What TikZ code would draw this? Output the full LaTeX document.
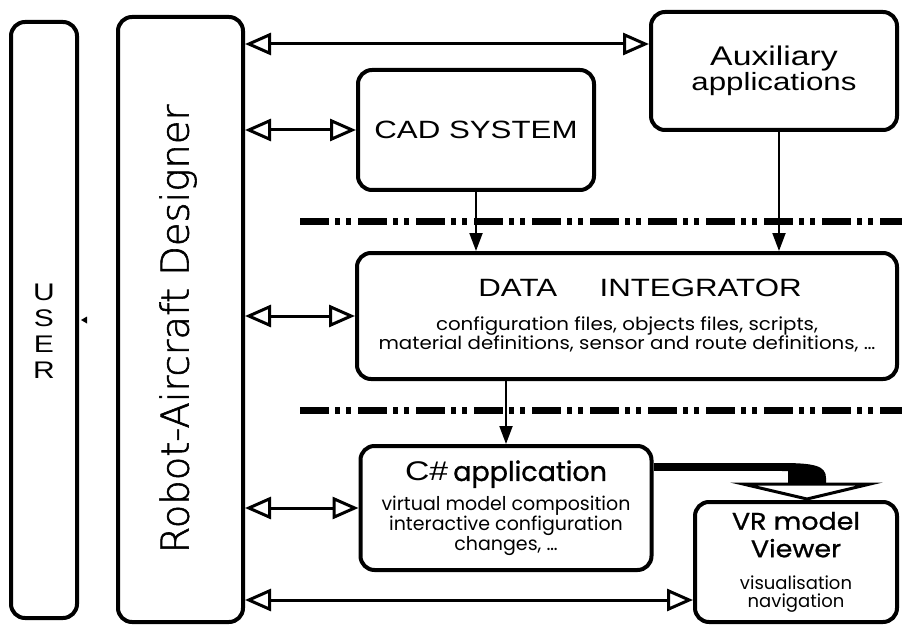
\documentclass[tikz,border=0pt]{standalone}
\usepackage{fontspec}
\setmainfont{Liberation Sans}
\newfontfamily\labelfont{Liberation Sans}[FakeStretch=1.25]
\newfontfamily\thinfont{DejaVu Sans ExtraLight}[FakeBold=1.5]
\newfontfamily\roundfont{Poppins}
\usetikzlibrary{arrows.meta}

\begin{document}
\begin{tikzpicture}[x=1pt, y=-1pt]
    \tikzset{block/.style={draw, line width=4pt, rounded corners=14pt,
            inner sep=0pt, align=center},
        biarrow/.style={line width=3pt,
            {Triangle[open, length=26pt, width=22pt]}-{Triangle[open, length=26pt, width=22pt]}},
        feed/.style={line width=2pt, -{Triangle[length=18pt, width=13pt]}},
        sepline/.style={line width=7pt,
            dash pattern=on 29pt off 6pt on 5pt off 6pt on 5pt off 7pt},
        bigtext/.style={font=\labelfont\fontsize{25}{25}\selectfont},
        smalltext/.style={font=\roundfont\addfontfeature{FakeStretch=1.1}\fontsize{18}{17.5}\selectfont}}
    \useasboundingbox (0,0) rectangle (902,631);
    % left column
    \node[block, minimum width=66pt, minimum height=596pt] (user) at (44,320) {};
    \node[font=\labelfont\fontsize{24}{26}\selectfont, align=center]
        (usertext) at (44,331) {U\\S\\E\\R};
    \node[block, minimum width=125pt, minimum height=605pt] (designer) at (180.5,319.5) {};
    \node[font=\thinfont\fontsize{38.5}{40}\selectfont, rotate=90]
        (designertext) at (178,329) {Robot-Aircraft Designer};
    \fill (user.east) ++(2,0) -- ++(6,-3.5) -- ++(0,7) -- cycle;
    % boxes
    \node[block, bigtext, minimum width=246pt, minimum height=118pt]
        (aux) at (774,71) {\fontsize{27}{25}\selectfont Auxiliary\\applications};
    \node[block, bigtext, minimum width=236pt, minimum height=120pt]
        (cad) at (476,130) {CAD SYSTEM};
    \node[block, smalltext, minimum width=540pt, minimum height=126pt]
        (integrator) at (627,316)
        {\hspace*{26pt}{\labelfont\fontsize{25}{27}\selectfont DATA\hspace{1.7em}INTEGRATOR}\\[16pt]
        configuration files, objects files, scripts,\\
        material definitions, sensor and route definitions, \dots};
    \node[block, font=\roundfont\fontsize{19}{20}\selectfont, minimum width=291pt, minimum height=124pt]
        (csharp) at (506,508)
        {{\labelfont\fontsize{27}{29}\selectfont C\#}\ {\roundfont\addfontfeature{FakeBold=1}\fontsize{27}{29}\selectfont application}\\[7pt]
        virtual model composition\\
        interactive configuration\\
        changes, \dots};
    \node[block, font=\roundfont\fontsize{18}{18}\selectfont, minimum width=202pt, minimum height=120pt]
        (viewer) at (796,562)
        {{\roundfont\addfontfeature{FakeBold=1,FakeStretch=1.12}\fontsize{24}{24}\selectfont VR model}\\[8pt]
        {\roundfont\addfontfeature{FakeBold=1,FakeStretch=1.12}\fontsize{24}{24}\selectfont Viewer}\\[14pt]
        visualisation\\
        navigation};
    % separators
    \draw[sepline] (300,222) -- (902,222);
    \draw[sepline] (300,410) -- (902,410);
    % connections to the designer
    \draw[biarrow] (designer.east |- 0,44) -- (aux.west |- 0,44);
    \draw[biarrow] (designer.east |- cad.west) -- (cad.west);
    \draw[biarrow] (designer.east |- integrator.west) -- (integrator.west);
    \draw[biarrow] (designer.east |- csharp.west) -- (csharp.west);
    \draw[biarrow] (designer.east |- 0,600) -- (viewer.west |- 0,600);
    % data flow
    \draw[feed] (cad.south) -- (cad.south |- integrator.north);
    \draw[feed] ([xshift=5pt]aux.south) -- ([xshift=5pt]aux.south |- integrator.north);
    \draw[feed] (csharp.north |- integrator.south) -- (csharp.north);
    % fat arrow to the viewer
    \draw[line width=8pt] (csharp.east |- 0,467) -- (786,467);
    \fill (782,463) .. controls (815,463) and (826,466) .. (826,478)
        -- (826,486) -- (788,486) -- (788,471) -- (782,471) -- cycle;
    \draw[line width=3pt, fill=white, line join=miter] (743,484) -- (870,484) -- (807,499) -- cycle;
\end{tikzpicture}
\end{document}
